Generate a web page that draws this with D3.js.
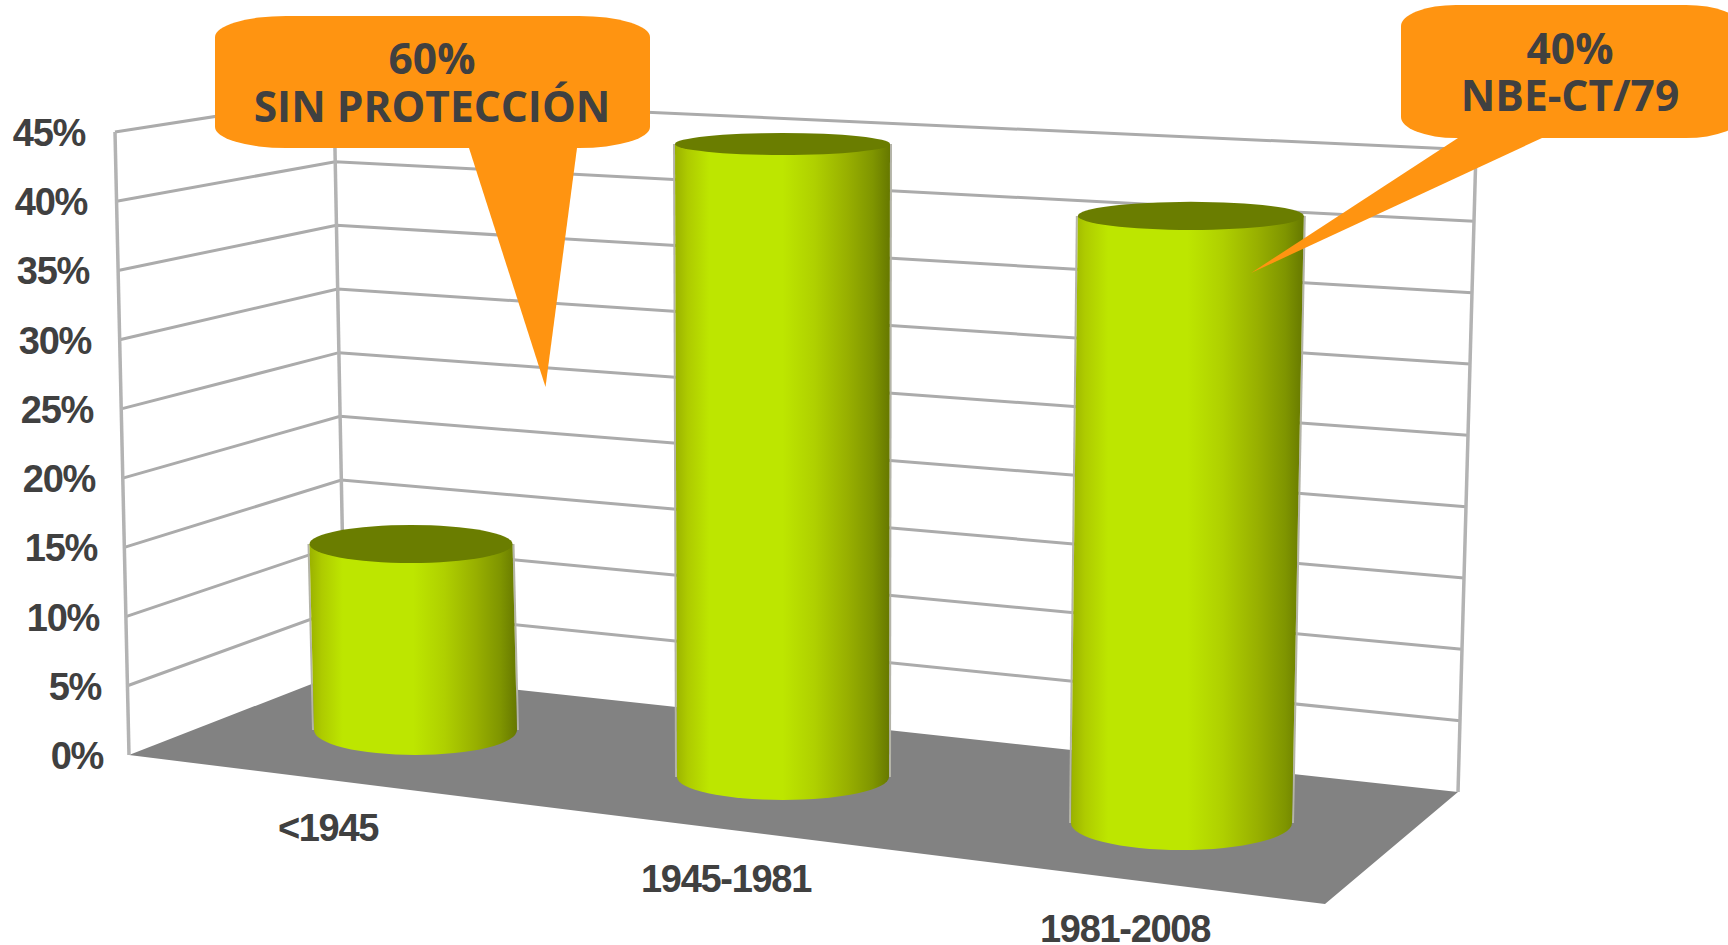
<!DOCTYPE html>
<html lang="es">
<head>
<meta charset="utf-8">
<title>Edificios por periodo</title>
<script src="https://cdn.jsdelivr.net/npm/d3@7"></script>
<style>
    html, body { margin: 0; background: #fff; overflow: hidden; }
    svg { display: block; }
    .tick-label, .cat-label { font-family: "Liberation Sans", Arial, sans-serif; font-weight: 700; fill: #404040; font-size: 38px; letter-spacing: -1.3px; }
    .callout-text { font-family: "Open Sans", sans-serif; font-weight: 700; fill: #404040; font-size: 42.5px; text-anchor: middle; }
    .grid-line { fill: none; stroke: #ababab; stroke-width: 3; stroke-linejoin: miter; }
    .wall-edge { stroke: #b3b3b3; stroke-width: 3.5; }
    .cylinder-edge { stroke: #b4b4a8; stroke-width: 2; }
</style>
</head>
<body>
<div class="chart"></div>
<script>
// chart values
const categories = ["<1945", "1945-1981", "1981-2008"];
const seriesValues = [15, 45, 40];
const tickValues = [0, 5, 10, 15, 20, 25, 30, 35, 40, 45];
const tickLabels = ["0%", "5%", "10%", "15%", "20%", "25%", "30%", "35%", "40%", "45%"];
const calloutOneLines = ["60%", "SIN PROTECCIÓN"];
const calloutTwoLines = ["40%", "NBE-CT/79"];

const WIDTH = 1728,
    HEIGHT = 945,
    MAX_VALUE = 45;

const domain = [0, MAX_VALUE];

// the three vertical edges of the fake 3d box
const outerX = d3.scaleLinear().domain(domain).range([129, 115]);
const outerY = d3.scaleLinear().domain(domain).range([755, 132]);
const backLeftX = d3.scaleLinear().domain(domain).range([345, 334]);
const backLeftY = d3.scaleLinear().domain(domain).range([671, 98]);
const backRightX = d3.scaleLinear().domain(domain).range([1458, 1476]);
const backRightY = d3.scaleLinear().domain(domain).range([792, 150]);
const labelX = d3.scaleLinear().domain(domain).range([103, 85]);
const labelY = d3.scaleLinear().domain(domain).range([755, 132]);

// each cylinder stands at another depth, so each one has its own projection
const baseX = d3.scaleOrdinal(categories, [415.5, 783, 1181.5]);
const baseY = d3.scaleOrdinal(categories, [730, 777, 823]);
const topX = d3.scaleOrdinal(categories, [402, 782.5, 1192]);
const topY = d3.scaleOrdinal(categories, [172, 144, 140]);
const baseRx = d3.scaleOrdinal(categories, [101.5, 106, 110.5]);
const topRx = d3.scaleOrdinal(categories, [101.5, 107.5, 113.3]);
const baseRy = d3.scaleOrdinal(categories, [25, 23, 27]);
const topRy = d3.scaleOrdinal(categories, [7, 11, 12.4]);
const catLabelX = d3.scaleOrdinal(categories, [328, 726, 1125]);
const catLabelY = d3.scaleOrdinal(categories, [841, 892, 942]);

const svg = d3.select(".chart")
    .append("svg")
    .attr("width", WIDTH)
    .attr("height", HEIGHT);

const gradient = svg.append("defs")
    .append("linearGradient")
    .attr("id", "cylinder-side");
[[0, "#9ab100"], [0.06, "#aecb00"], [0.16, "#bde600"], [0.5, "#bde600"], [0.65, "#afd000"], [0.8, "#98b000"], [0.92, "#7f9500"], [1, "#667800"]]
    .forEach(s => gradient.append("stop").attr("offset", s[0]).attr("stop-color", s[1]));

// floor
svg.append("polygon")
    .attr("fill", "#828282")
    .attr("points", [[129, 755], [backLeftX(0), backLeftY(0)], [backRightX(0), backRightY(0)], [1325, 904]].join(" "));

// grid lines, one per tick, going around the corner of the box
svg.selectAll(".grid-line")
    .data(tickValues.filter(d => d > 0))
    .join("polyline")
    .attr("class", "grid-line")
    .attr("points", d => [
        [outerX(d), outerY(d)],
        [backLeftX(d), backLeftY(d)],
        [backRightX(d), backRightY(d)]
    ].join(" "));

[[outerX, outerY], [backLeftX, backLeftY], [backRightX, backRightY]].forEach(edge => {
    svg.append("line")
        .attr("class", "wall-edge")
        .attr("x1", edge[0](0))
        .attr("y1", edge[1](0))
        .attr("x2", edge[0](MAX_VALUE))
        .attr("y2", edge[1](MAX_VALUE));
});

// y labels
svg.selectAll(".tick-label")
    .data(tickValues)
    .join("text")
    .attr("class", "tick-label")
    .attr("text-anchor", "end")
    .attr("x", d => labelX(d))
    .attr("y", d => labelY(d) + 14)
    .text((d, i) => tickLabels[i]);

// cylinders
categories.forEach((cat, i) => {
    const value = seriesValues[i];
    const cx = d3.scaleLinear().domain(domain).range([baseX(cat), topX(cat)]);
    const cy = d3.scaleLinear().domain(domain).range([baseY(cat), topY(cat)]);
    const rx = d3.scaleLinear().domain(domain).range([baseRx(cat), topRx(cat)]);
    const ry = d3.scaleLinear().domain(domain).range([baseRy(cat), topRy(cat)]);

    const bar = svg.append("g").attr("class", "cylinder");

    // thin grey fringe next to the sides
    [-1, 1].forEach(side => {
        bar.append("line")
            .attr("class", "cylinder-edge")
            .attr("x1", cx(0) + side * (rx(0) + 1))
            .attr("y1", cy(0))
            .attr("x2", cx(value) + side * (rx(value) + 1))
            .attr("y2", cy(value));
    });

    bar.append("path")
        .attr("fill", "url(#cylinder-side)")
        .attr("d", [
            `M${cx(value) - rx(value)},${cy(value)}`,
            `L${cx(0) - rx(0)},${cy(0)}`,
            `A${rx(0)},${ry(0)} 0 0 0 ${cx(0) + rx(0)},${cy(0)}`,
            `L${cx(value) + rx(value)},${cy(value)}`,
            "Z"
        ].join(" "));

    bar.append("ellipse")
        .attr("fill", "#6a7d00")
        .attr("cx", cx(value))
        .attr("cy", cy(value))
        .attr("rx", rx(value))
        .attr("ry", ry(value));
});

// category labels
svg.selectAll(".cat-label")
    .data(categories)
    .join("text")
    .attr("class", "cat-label")
    .attr("text-anchor", "middle")
    .attr("x", d => catLabelX(d))
    .attr("y", d => catLabelY(d))
    .text(d => d);

/**
 * orange speech bubble with a pointed tail
 */
function drawCallout(box, tail, lines, baselines, centerX) {
    const g = svg.append("g").attr("class", "callout");
    g.append("polygon")
        .attr("fill", "#ff9411")
        .attr("points", tail.join(" "));
    g.append("rect")
        .attr("fill", "#ff9411")
        .attr("x", box.x)
        .attr("y", box.y)
        .attr("width", box.w)
        .attr("height", box.h)
        .attr("rx", box.rx)
        .attr("ry", box.ry);
    lines.forEach((line, i) => {
        g.append("text")
            .attr("class", "callout-text")
            .attr("x", centerX)
            .attr("y", baselines[i])
            .text(line);
    });
}

drawCallout({ x: 215, y: 16, w: 435, h: 132, rx: 71, ry: 21 },
    [[469, 148], [545.5, 387], [577, 148]], calloutOneLines, [74, 122], 432);
drawCallout({ x: 1401, y: 5, w: 340, h: 133, rx: 55, ry: 21 },
    [[1458, 138], [1251, 273], [1542, 138]], calloutTwoLines, [64, 111], 1570);
</script>
</body>
</html>
